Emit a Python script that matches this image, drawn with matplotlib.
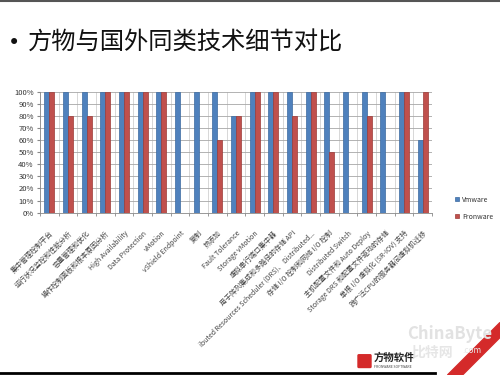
import matplotlib.pyplot as plt
import matplotlib.patches as mpatches
from matplotlib.ticker import PercentFormatter
import numpy as np

plt.rcParams['font.family'] = ['Noto Sans CJK SC', 'DejaVu Sans']

# Categories and scores (fraction of full coverage)
features = [
    "集中管理控制平台",
    "运行状况监控和性能分析",
    "容量管理和优化",
    "操作控制面板和根本原因分析",
    "High Availability",
    "Data Protection",
    "vMotion",
    "vShield Endpoint",
    "复制",
    "热添加",
    "Fault Tolerance",
    "Storage vMotion",
    "虚拟串行端口集中器",
    "用于阵列集成和多路径的存储 API",
    "ibuted Resources Scheduler (DRS)、 Distributed...",
    "存储 I/O 控制和网络 I/O 控制",
    "Distributed Switch",
    "主机配置文件和 Auto Deploy",
    "Storage DRS 和配置文件驱动的存储",
    "单根 I/O 虚拟化 (SR-IOV) 支持",
    "跨广泛CPU的服务器间虚拟机迁移",
]
vmware = [1.0, 1.0, 1.0, 1.0, 1.0, 1.0, 1.0, 1.0, 1.0, 1.0, 0.8,
          1.0, 1.0, 1.0, 1.0, 1.0, 1.0, 1.0, 1.0, 1.0, 0.6]
fronware = [1.0, 0.8, 0.8, 1.0, 1.0, 1.0, 1.0, 0.0, 0.0, 0.6, 0.8,
            1.0, 1.0, 0.8, 1.0, 0.5, 0.0, 0.8, 0.0, 1.0, 1.0]
series_names = ["Vmware", "Fronware"]

fig = plt.figure(figsize=(5, 3.75), dpi=100)

# slide decorations: top border line
fig.add_artist(plt.Line2D([0, 1], [0.998, 0.998], color='#555555', lw=1.5))

# title
fig.text(0.016, 0.885, "•", fontsize=15, va='center', color='#111111',
         family='DejaVu Sans')
fig.text(0.056, 0.885, "方物与国外同类技术细节对比", fontsize=17.5,
         va='center', color='#111111')

ax = fig.add_axes([0.08, 0.433, 0.784, 0.322])
x = np.arange(len(features))
w = 0.26
ax.bar(x - w / 2, vmware, w, color='#4F81BD', edgecolor='#3b6aa0',
       linewidth=0.5, label=series_names[0], zorder=3)
ax.bar(x + w / 2, fronware, w, color='#C0504D', edgecolor='#9c3a37',
       linewidth=0.5, label=series_names[1], zorder=3)

ax.set_xlim(-0.5, len(features) - 0.5)
ax.set_ylim(0, 1.0)
ax.set_yticks(np.arange(0, 1.01, 0.1))
ax.yaxis.set_major_formatter(PercentFormatter(1.0, decimals=0))
ax.tick_params(axis='y', labelsize=5.5, labelcolor='#333333', length=2.5,
               color='#888888', pad=2)

ax.set_xticks(x)
ax.set_xticklabels(features, rotation=45, ha='right', rotation_mode='anchor',
                   fontsize=5, color='#444444')
ax.tick_params(axis='x', length=0, pad=12)
ax.set_xticks(np.arange(-0.5, len(features), 1.0), minor=True)
ax.tick_params(axis='x', which='minor', length=2.5, color='#888888')

ax.grid(axis='y', color='#a6a6a6', linewidth=0.6, zorder=0)
ax.grid(axis='x', which='minor', color='#c8c8c8', linewidth=0.5, zorder=0)
for s in ['top', 'right']:
    ax.spines[s].set_visible(False)
for s in ['left', 'bottom']:
    ax.spines[s].set_color('#888888')
    ax.spines[s].set_linewidth(0.6)

ax.legend(loc='center left', bbox_to_anchor=(0.898, 0.445),
          bbox_transform=fig.transFigure, frameon=False, fontsize=5,
          handlelength=0.6, handleheight=0.6, handletextpad=0.4,
          labelspacing=1.3, labelcolor='#333333')

# footer: black rule, red stripe, logo and watermark
fig.add_artist(plt.Line2D([0.0, 0.87], [0.006, 0.006], color='black', lw=2))
fig.add_artist(mpatches.Polygon([[0.895, 0.0], [0.925, 0.0], [1.0, 0.1],
                                 [1.0, 0.14]], closed=True,
                                transform=fig.transFigure, color='#d42a2a',
                                zorder=1))
fig.add_artist(mpatches.FancyBboxPatch((0.718, 0.022), 0.022, 0.03,
                                       boxstyle='round,pad=0.002',
                                       transform=fig.transFigure,
                                       color='#d42a2a'))
fig.text(0.748, 0.047, "方物软件", fontsize=7.5, weight='bold',
         va='center', color='#222222')
fig.text(0.748, 0.022, "FRONWARE SOFTWARE", fontsize=2.5,
         va='center', color='#444444')
fig.text(0.815, 0.11, "ChinaByte", fontsize=12, weight='bold',
         color='#e2e2e2', va='center', zorder=5)
fig.text(0.822, 0.06, "比特网", fontsize=10, weight='bold',
         color='#e6e6e6', va='center', zorder=5)
fig.text(0.925, 0.065, ".com", fontsize=6, color='#e6e6e6', va='center',
         zorder=5)

fig.savefig('out.png', dpi=100)
